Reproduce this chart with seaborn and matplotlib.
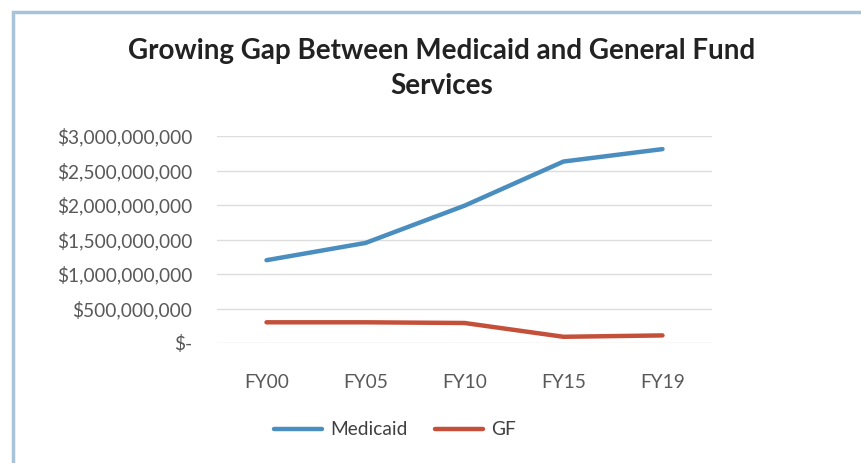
import matplotlib
matplotlib.use("Agg")
import matplotlib.pyplot as plt
import seaborn as sns
import pandas as pd
from matplotlib.patches import Rectangle
from matplotlib.ticker import FuncFormatter

years = ["FY00", "FY05", "FY10", "FY15", "FY19"]
medicaid = [1.20e9, 1.45e9, 1.99e9, 2.63e9, 2.81e9]
gf = [0.30e9, 0.30e9, 0.29e9, 0.09e9, 0.11e9]
series_names = ["Medicaid", "GF"]
colors = ["#4A8EBF", "#C4503A"]

df = pd.DataFrame({
    "Year": years * 2,
    "Value": medicaid + gf,
    "Series": [series_names[0]] * len(years) + [series_names[1]] * len(years),
})

sns.set_theme(style="white")
plt.rcParams["font.family"] = ["Lato", "DejaVu Sans"]

fig = plt.figure(figsize=(8.61, 4.63), dpi=100)
ax = fig.add_axes([217 / 861, (463 - 343) / 463, (712 - 217) / 861, 207 / 463])

sns.lineplot(data=df, x="Year", y="Value", hue="Series", palette=colors,
             linewidth=3.2, ax=ax, sort=False)

ax.set_xlim(-0.5, 4.5)
ax.set_ylim(0, 3.0e9)
ax.set_yticks([0, 5e8, 1e9, 1.5e9, 2e9, 2.5e9, 3e9])

def fmt(v, pos):
    if v == 0:
        return "$-"
    return "${:,.0f}".format(v)

ax.yaxis.set_major_formatter(FuncFormatter(fmt))
ax.grid(axis="y", color="#DDDDDD", linewidth=1)
ax.grid(axis="x", visible=False)
for s in ax.spines.values():
    s.set_visible(False)
ax.tick_params(axis="y", labelsize=13.8, labelcolor="#595959", pad=18, length=0)
ax.tick_params(axis="x", labelsize=13.8, labelcolor="#595959", pad=22, length=0)
ax.set_xlabel("")
ax.set_ylabel("")

leg = ax.legend(loc="center", bbox_to_anchor=(0.36, -0.42), ncol=2,
                frameon=False, fontsize=13.8, handlelength=2.5, columnspacing=1.4,
                handletextpad=0.45)
for t in leg.get_texts():
    t.set_color("#404040")

fig.text(442 / 861, 1 - 68.5 / 463, "Growing Gap Between Medicaid and General Fund\nServices",
         ha="center", va="center", fontsize=20, fontweight="bold", color="#222222",
         linespacing=1.42)

fig.patches.append(Rectangle((13 / 861, -0.01), 0.99, 1 - 12 / 463 + 0.01,
                             transform=fig.transFigure, fill=False,
                             edgecolor="#A9C4D9", linewidth=2.5))

fig.savefig("out.png", dpi=100, facecolor="white")
